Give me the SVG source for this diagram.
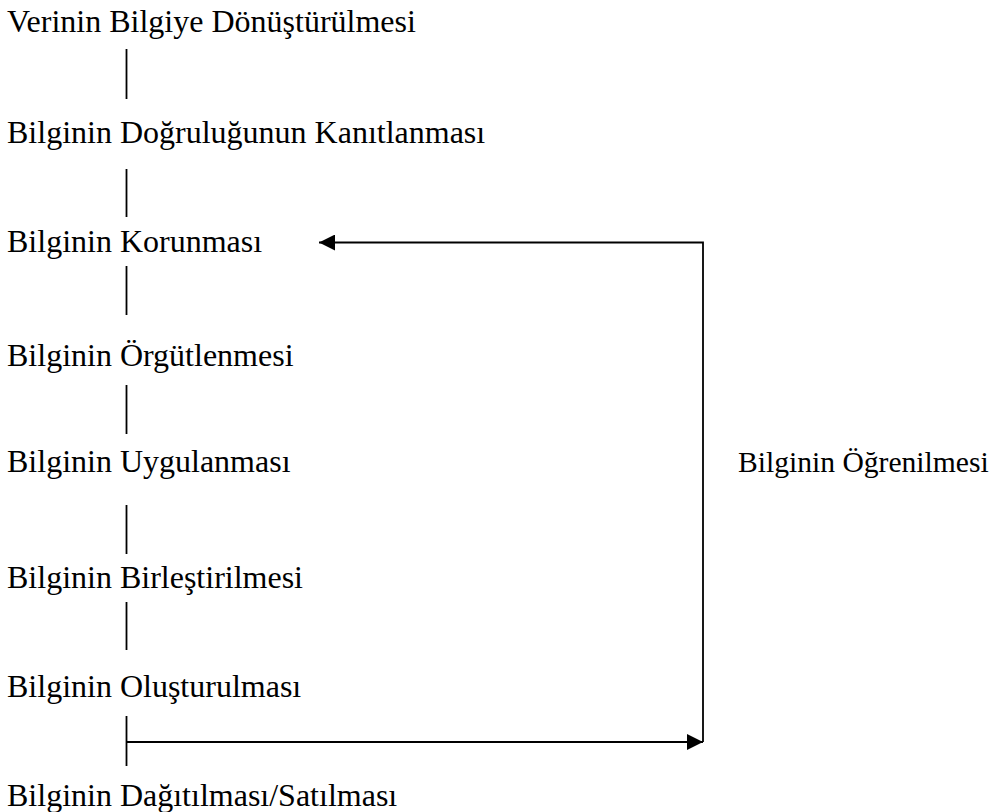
<svg xmlns="http://www.w3.org/2000/svg" width="999" height="812" viewBox="0 0 999 812">
<style>
  text { font-family: "Liberation Serif", "Times New Roman", serif; font-size: 32px; fill: #000; }
  .side { font-size: 29.6px; }
  .ln { stroke: #000; stroke-width: 1.8; fill: none; }
</style>
<defs>
  <marker id="ah" markerUnits="userSpaceOnUse" markerWidth="16" markerHeight="16" refX="16" refY="8" orient="auto">
    <path d="M0,0 L16,8 L0,16 Z" fill="#000"/>
  </marker>
</defs>
<rect width="999" height="812" fill="#fff"/>
<g id="n1"><text x="7" y="32">Verinin Bilgiye Dönüştürülmesi</text></g>
<g id="n2"><text x="7" y="143">Bilginin Doğruluğunun Kanıtlanması</text></g>
<g id="n3"><text x="7" y="252">Bilginin Korunması</text></g>
<g id="n4"><text x="7" y="366">Bilginin Örgütlenmesi</text></g>
<g id="n5"><text x="7" y="472">Bilginin Uygulanması</text></g>
<g id="n6"><text x="7" y="588">Bilginin Birleştirilmesi</text></g>
<g id="n7"><text x="7" y="697">Bilginin Oluşturulması</text></g>
<g id="n8"><text x="7" y="806">Bilginin Dağıtılması/Satılması</text></g>
<g id="n9"><text class="side" x="738" y="472">Bilginin Öğrenilmesi</text></g>
<g id="connectors">
  <line class="ln" x1="126.5" y1="49" x2="126.5" y2="99"/>
  <line class="ln" x1="126.5" y1="169" x2="126.5" y2="217"/>
  <line class="ln" x1="126.5" y1="266" x2="126.5" y2="315"/>
  <line class="ln" x1="126.5" y1="385" x2="126.5" y2="434"/>
  <line class="ln" x1="126.5" y1="505" x2="126.5" y2="554"/>
  <line class="ln" x1="126.5" y1="602" x2="126.5" y2="650"/>
  <line class="ln" x1="126.5" y1="716" x2="126.5" y2="766"/>
  <path class="ln" d="M126.5,742 H703" marker-end="url(#ah)"/>
  <path class="ln" d="M703,742 V242.5 H319" marker-end="url(#ah)"/>
</g>
</svg>
